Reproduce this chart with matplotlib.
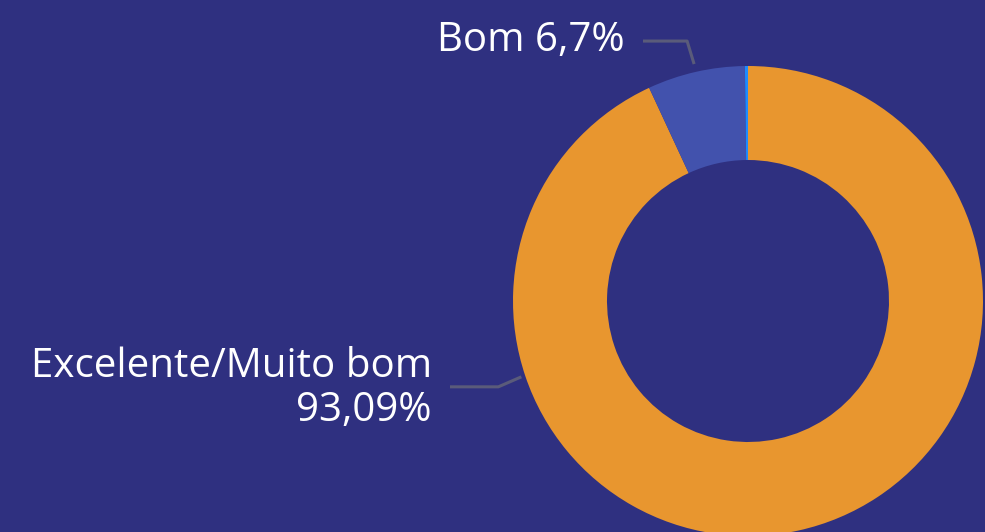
import numpy as np
import matplotlib
matplotlib.use("Agg")
import matplotlib.pyplot as plt

# dados
categorias = ["Excelente/Muito bom", "Bom", "Outro"]
valores = [93.09, 6.7, 0.21]
rotulos = ["Excelente/Muito bom\n93,09%", "Bom 6,7%", None]
cores = ["#E8962F", "#4252AD", "#1E8BFF"]

fundo = "#2F3080"
linha_cor = "#5A5B7A"

W, H = 985, 532
fig = plt.figure(figsize=(W / 100, H / 100), dpi=100)
fig.patch.set_facecolor(fundo)
ax = fig.add_axes([0, 0, 1, 1])
ax.set_facecolor(fundo)

cx, cy, r = 748, H - 301, 235
ax.pie(valores, colors=cores, startangle=90, counterclock=False,
       radius=r, center=(cx, cy),
       wedgeprops=dict(width=r * 0.4, linewidth=0))
ax.set_xlim(0, W)
ax.set_ylim(0, H)
ax.set_aspect("equal")
ax.axis("off")

fonte = dict(family=["Open Sans", "DejaVu Sans"], color="white", fontsize=29)

# Bom: rótulo acima, à esquerda
ang = np.deg2rad(90 + (valores[2] + valores[1] / 2) * 3.6)
px, py = cx + (r + 8) * np.cos(ang), cy + (r + 8) * np.sin(ang)
ax.plot([643, px - 7, px], [py + 23, py + 23, py], color=linha_cor, lw=2.2,
        solid_capstyle="butt")
ax.text(625, py + 23, rotulos[1], ha="right", va="center", **fonte)

# Excelente: rótulo à esquerda
ang = np.deg2rad(198.5)
px, py = cx + (r + 4) * np.cos(ang), cy + (r + 4) * np.sin(ang)
ax.plot([450, px - 23, px], [py - 10, py - 10, py], color=linha_cor, lw=2.2,
        solid_capstyle="butt")
ax.text(432, py - 12, rotulos[0], ha="right", va="center",
        linespacing=1.1, **fonte)

fig.savefig("out.png", dpi=100, facecolor=fundo)
